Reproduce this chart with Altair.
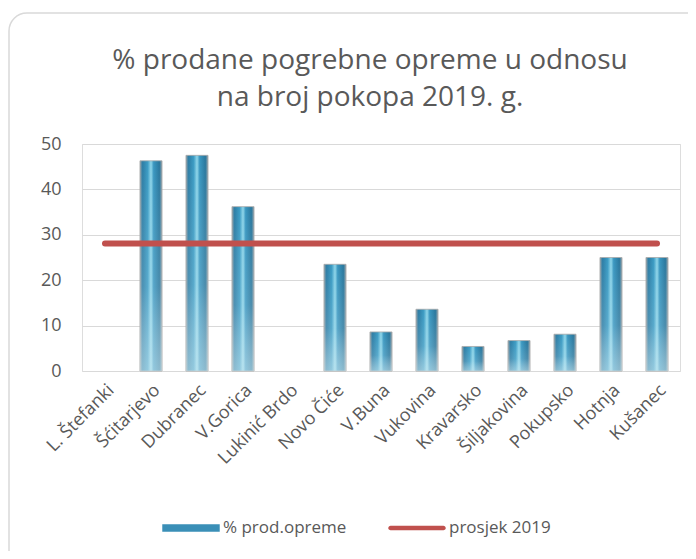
import altair as alt
import pandas as pd

categories = ["L. Štefanki", "Šćitarjevo", "Dubranec", "V.Gorica", "Lukinić Brdo",
              "Novo Čiće", "V.Buna", "Vukovina", "Kravarsko", "Šiljakovina",
              "Pokupsko", "Hotnja", "Kušanec"]
values = [0, 46.3, 47.5, 36.2, 0, 23.5, 8.6, 13.6, 5.4, 6.7, 8.1, 25.0, 25.0]
average = 28.1
series_names = ["% prod.opreme", "prosjek 2019"]
title_lines = ["% prodane pogrebne opreme u odnosu", "na broj pokopa 2019. g."]
y_ticks = [0, 10, 20, 30, 40, 50]

FONT = "Open Sans"
TXT = "#595959"
RED = "#c0504d"
BLUE = "#3a8fb7"

bars_df = pd.DataFrame({"mjesto": categories, "vrijednost": values})
avg_df = pd.DataFrame({"mjesto": categories, "prosjek": [average] * len(categories)})
legend_df = pd.DataFrame({"serija": series_names})
frame_df = pd.DataFrame({"k": [0]})

bar_gradient = {
    "gradient": "linear", "x1": 0, "y1": 0, "x2": 1, "y2": 0,
    "stops": [
        {"offset": 0.0, "color": "#8a9ea8"},
        {"offset": 0.12, "color": "#2d7ea6"},
        {"offset": 0.35, "color": "#3c9cc4"},
        {"offset": 0.5, "color": "#8fd6ea"},
        {"offset": 0.62, "color": "#3a97c0"},
        {"offset": 0.88, "color": "#2a789e"},
        {"offset": 1.0, "color": "#8fa2ac"},
    ],
}
shade_gradient = {
    "gradient": "linear", "x1": 0, "y1": 0, "x2": 0, "y2": 1,
    "stops": [
        {"offset": 0.0, "color": "rgba(255,255,255,0)"},
        {"offset": 0.6, "color": "rgba(255,255,255,0.15)"},
        {"offset": 1.0, "color": "rgba(220,240,245,0.55)"},
    ],
}

x_scale = alt.Scale(domain=categories, paddingInner=0.52, paddingOuter=0.26)
x_enc = alt.X("mjesto:N", title=None, scale=x_scale,
              axis=alt.Axis(labelAngle=-45, domain=False, ticks=False, labelPadding=10,
                            labelFontSize=18, labelColor=TXT, labelFont=FONT))
y_enc = alt.Y("vrijednost:Q", title=None, scale=alt.Scale(domain=[0, 50], nice=False),
              axis=alt.Axis(values=y_ticks, domain=False, ticks=False, labelPadding=21,
                            labelFontSize=18, labelColor=TXT, labelFont=FONT,
                            gridColor="#d9d9d9", gridWidth=1.2))

frame = alt.Chart(frame_df).mark_rect(
    fillOpacity=0, stroke="#d9d9d9", strokeWidth=1.5, cornerRadius=18
).encode(x=alt.value(-73), x2=alt.value(650), y=alt.value(-131), y2=alt.value(460))

bars = alt.Chart(bars_df).transform_filter("datum.vrijednost > 0").mark_bar(
    fill=bar_gradient, stroke="#a8a8a8", strokeWidth=0.8).encode(x=x_enc, y=y_enc)
shade = alt.Chart(bars_df).transform_filter("datum.vrijednost > 0").mark_bar(
    fill=shade_gradient).encode(x=alt.X("mjesto:N"), y=alt.Y("vrijednost:Q"))

line = alt.Chart(avg_df).mark_line(strokeWidth=6, strokeCap="round", color=RED).encode(
    x=alt.X("mjesto:N"),
    y=alt.Y("prosjek:Q"),
)

bar_shape = "M-1,-0.13H1V0.13H-1Z"
line_shape = "M-0.92,-0.08H0.92A0.08,0.08 0 0 1 0.92,0.08H-0.92A0.08,0.08 0 0 1 -0.92,-0.08Z"

legend_layer = alt.Chart(legend_df).transform_filter("false").mark_point(
    filled=True, opacity=1).encode(
    x=alt.value(0), y=alt.value(0),
    color=alt.Color("serija:N", title=None,
                    scale=alt.Scale(domain=series_names, range=[BLUE, RED]),
                    legend=alt.Legend(
                        orient="none", legendX=80, legendY=355, direction="horizontal",
                        symbolSize=3300, symbolStrokeWidth=0, symbolOpacity=1,
                        labelFontSize=17, labelColor=TXT, labelFont=FONT,
                        labelOffset=3, columnPadding=41)),
    shape=alt.Shape("serija:N", title=None,
                    scale=alt.Scale(domain=series_names, range=[bar_shape, line_shape])),
)

chart = alt.layer(frame, bars, shade, line, legend_layer).properties(
    width=598, height=227,
    title=alt.TitleParams(text=title_lines, fontSize=28, font=FONT, fontWeight="normal",
                          color=TXT, anchor="middle", dx=-11, offset=-100, lineHeight=37),
    autosize=alt.AutoSizeParams(type="none"),
    padding={"left": 74, "top": 136, "right": 8, "bottom": 180},
).configure_view(stroke=None).configure(background="white")

chart.save("out.html", embed_options={"renderer": "svg", "actions": False})
